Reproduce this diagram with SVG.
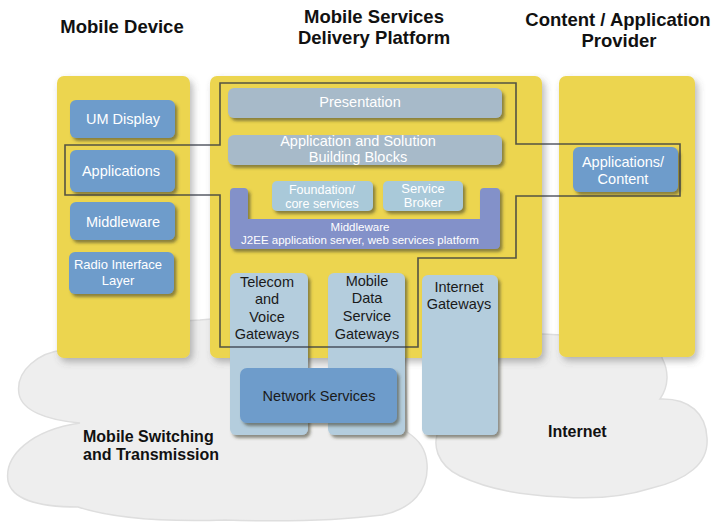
<svg xmlns="http://www.w3.org/2000/svg" width="715" height="524" viewBox="0 0 715 524">
<style>
.title{font-family:"Liberation Sans",Arial,sans-serif;font-weight:bold;font-size:18.5px;fill:#111;text-anchor:middle}
.lbl{font-family:"Liberation Sans",Arial,sans-serif;font-weight:bold;font-size:16px;fill:#111}
.w{font-family:"Liberation Sans",Arial,sans-serif;font-size:14.5px;fill:#fff;text-anchor:middle}
.k{font-family:"Liberation Sans",Arial,sans-serif;font-size:14.5px;fill:#1a1a1a;text-anchor:middle}
.ws{font-family:"Liberation Sans",Arial,sans-serif;font-size:13px;fill:#fff;text-anchor:middle}
.wf{font-family:"Liberation Sans",Arial,sans-serif;font-size:12.5px;fill:#fff;text-anchor:middle}
.wx{font-family:"Liberation Sans",Arial,sans-serif;font-size:11.5px;fill:#fff;text-anchor:middle}
.cloud{fill:#eeeeee;stroke:#dedede;stroke-width:1.5}
.panel{fill:#ecd54f}
.blue{fill:#6e9ccb}
.gray{fill:#a7bac9}
.light{fill:#a9c9d9}
.gw{fill:#b4cddd}
.mw{fill:#8391c9}
.outline{fill:none;stroke:#2e3240;stroke-opacity:0.8;stroke-width:1.6}
</style>
<defs>
<filter id="ps" x="-10%" y="-10%" width="125%" height="125%">
<feDropShadow dx="3" dy="4" stdDeviation="3.5" flood-color="#555" flood-opacity="0.4"/>
</filter>
<filter id="bs" x="-10%" y="-10%" width="125%" height="130%">
<feDropShadow dx="2.5" dy="3" stdDeviation="1.5" flood-color="#3a3a2a" flood-opacity="0.55"/>
</filter>
</defs>
<rect width="715" height="524" fill="#ffffff"/>

<g id="cloud-mobile-switching">
<path class="cloud" d="M 64,350 C 40,352 15,370 19,394 C 22,410 45,420 80,423 C 32,430 4,455 8,481 C 12,500 40,507 78,507 C 112,518 165,522 225,520 C 285,522 342,520 382,515 C 412,509 429,490 427,464 C 426,449 419,440 407,432 L 405,345 C 330,312 250,315 200,320 C 150,322 100,330 64,350 Z"/>
<text class="lbl" x="83" y="442">Mobile Switching</text>
<text class="lbl" x="83" y="460">and Transmission</text>
</g>
<g id="cloud-internet">
<path class="cloud" d="M 440,428 C 431,444 437,465 460,476 C 490,490 522,495 562,497 C 602,500 630,495 652,488 C 686,480 709,464 707,438 C 706,414 690,398 660,399 C 669,386 669,371 662,358 L 662,340 L 542,334 C 520,334 505,345 498,355 L 440,360 Z"/>
<text class="lbl" x="548" y="437">Internet</text>
</g>

<g id="mobile-device">
<rect class="panel" x="57" y="76" width="133" height="282" rx="7" filter="url(#ps)"/>
<text class="title" x="122" y="33">Mobile Device</text>
</g>
<g id="delivery-platform">
<rect class="panel" x="210" y="76" width="332" height="282" rx="7" filter="url(#ps)"/>
<text class="title" x="374" y="23">Mobile Services</text>
<text class="title" x="374" y="44">Delivery Platform</text>
</g>
<g id="content-provider">
<rect class="panel" x="559" y="76" width="136" height="281" rx="7" filter="url(#ps)"/>
<text class="title" x="618" y="26">Content / Application</text>
<text class="title" x="619" y="47">Provider</text>
</g>

<g id="um-display">
<rect class="blue" x="70" y="100" width="105" height="38" rx="6" filter="url(#bs)"/>
<text class="w" x="123" y="124">UM Display</text>
</g>
<g id="applications">
<rect class="blue" x="70" y="150" width="105" height="42" rx="6" filter="url(#bs)"/>
<text class="w" x="121" y="176">Applications</text>
</g>
<g id="middleware-device">
<rect class="blue" x="70" y="202" width="105" height="38" rx="6" filter="url(#bs)"/>
<text class="w" x="123" y="227">Middleware</text>
</g>
<g id="radio-interface">
<rect class="blue" x="69" y="252" width="105" height="42" rx="6" filter="url(#bs)"/>
<text class="ws" x="118" y="269">Radio Interface</text>
<text class="ws" x="118" y="285">Layer</text>
</g>

<g id="presentation">
<rect class="gray" x="228" y="88" width="274" height="30" rx="6" filter="url(#bs)"/>
<text class="w" x="360" y="107">Presentation</text>
</g>
<g id="building-blocks">
<rect class="gray" x="228" y="135" width="274" height="30" rx="6" filter="url(#bs)"/>
<text class="w" x="358" y="146">Application and Solution</text>
<text class="w" x="358" y="162">Building Blocks</text>
</g>
<g id="middleware-platform">
<path class="mw" d="M 234,188 L 244,188 Q 248,188 248,192 L 248,219 L 480,219 L 480,192 Q 480,188 484,188 L 496,188 Q 500,188 500,192 L 500,244 Q 500,249 495,249 L 235,249 Q 230,249 230,244 L 230,192 Q 230,188 234,188 Z" filter="url(#bs)"/>
<text class="wx" x="360" y="231">Middleware</text>
<text class="wx" x="360" y="244">J2EE application server, web services platform</text>
</g>
<g id="foundation">
<rect class="light" x="272" y="181" width="101" height="30" rx="5" filter="url(#bs)"/>
<text class="wf" x="322" y="194">Foundation/</text>
<text class="wf" x="322" y="208">core services</text>
</g>
<g id="service-broker">
<rect class="light" x="383" y="181" width="80" height="30" rx="5" filter="url(#bs)"/>
<text class="ws" x="423" y="193">Service</text>
<text class="ws" x="423" y="207">Broker</text>
</g>

<g id="telecom-gateways">
<rect class="gw" x="230" y="273" width="78" height="162" rx="6" filter="url(#bs)"/>
<text class="k" x="267" y="287">Telecom</text>
<text class="k" x="267" y="304">and</text>
<text class="k" x="267" y="322">Voice</text>
<text class="k" x="267" y="339">Gateways</text>
</g>
<g id="mobile-data-gateways">
<rect class="gw" x="328" y="273" width="77" height="162" rx="6" filter="url(#bs)"/>
<text class="k" x="367" y="286">Mobile</text>
<text class="k" x="367" y="303">Data</text>
<text class="k" x="367" y="321">Service</text>
<text class="k" x="367" y="339">Gateways</text>
</g>
<g id="internet-gateways">
<rect class="gw" x="422" y="275" width="76" height="160" rx="6" filter="url(#bs)"/>
<text class="k" x="459" y="292">Internet</text>
<text class="k" x="459" y="309">Gateways</text>
</g>
<g id="network-services">
<rect class="blue" x="240" y="368" width="157" height="55" rx="7" filter="url(#bs)"/>
<text class="k" x="319" y="401">Network Services</text>
</g>

<g id="applications-content">
<rect class="blue" x="573" y="147" width="105" height="45" rx="6" filter="url(#bs)"/>
<text class="w" x="623" y="167">Applications/</text>
<text class="w" x="623" y="184">Content</text>
</g>

<g id="connectors">
<path class="outline" d="M 220,83 L 516,83 L 516,144 L 680,144 L 680,196 L 516,196 L 516,258 L 418,258 L 418,347 L 220,347 L 220,195 L 65,195 L 65,145 L 220,145 Z"/>
</g>
</svg>
